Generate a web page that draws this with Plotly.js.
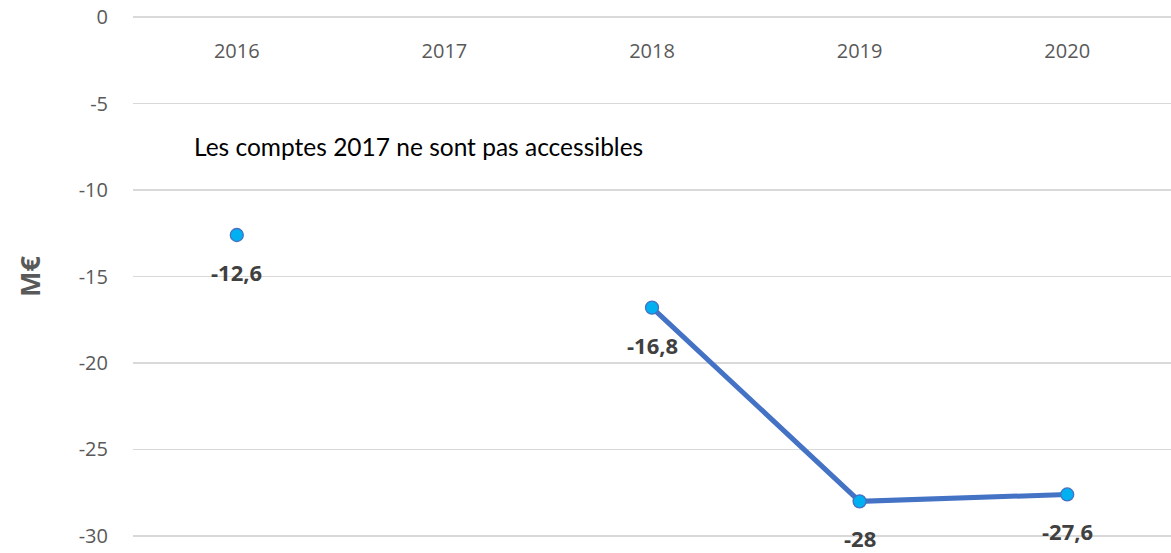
<!DOCTYPE html>
<html>
<head>
<meta charset="utf-8">
<script src="https://cdn.plot.ly/plotly-3.0.1.min.js"></script>
<style>html,body{margin:0;padding:0;background:#fff;}#chart{width:1171px;height:553px;}</style>
</head>
<body>
<div id="chart"></div>
<script>
const years = ['2016', '2017', '2018', '2019', '2020'];
const values = [-12.6, null, -16.8, -28, -27.6];
const yTicks = [0, -5, -10, -15, -20, -25, -30];
const noteText = 'Les comptes 2017 ne sont pas accessibles';
const yTitle = 'M€';

const trace = {
  x: years,
  y: values,
  type: 'scatter',
  mode: 'lines+markers',
  connectgaps: false,
  line: {color: '#4472C4', width: 5},
  marker: {size: 13, color: '#00B0F0', line: {color: '#4472C4', width: 1.3}},
  hoverinfo: 'skip',
  cliponaxis: false
};

const annotations = [];
years.forEach((yr, i) => {
  if (values[i] === null) return;
  annotations.push({
    x: i, y: values[i], xref: 'x', yref: 'y',
    text: '<b>' + String(values[i]).replace('.', ',') + '</b>',
    showarrow: false, yshift: -37, borderpad: 0,
    font: {family: 'Open Sans, sans-serif', size: 22, color: '#404040'}
  });
});
annotations.push({
  x: 0, y: -7.5, xref: 'x', yref: 'y', xanchor: 'left', xshift: -45,
  text: noteText, showarrow: false,
  font: {family: 'Lato, sans-serif', size: 24.5, color: '#000000'}
});

const layout = {
  width: 1171, height: 553,
  margin: {l: 133, r: 0, t: 16, b: 16},
  paper_bgcolor: '#ffffff', plot_bgcolor: '#ffffff',
  showlegend: false,
  xaxis: {
    type: 'category', side: 'top', range: [-0.5, 4.5],
    anchor: 'free', position: 0.912,
    ticks: '', showgrid: false, zeroline: false, showline: false,
    tickfont: {family: 'Open Sans, sans-serif', size: 20, color: '#595959'}
  },
  yaxis: {
    range: [-30.06, 0.06], tickvals: yTicks, ticktext: yTicks.map(String),
    showgrid: true, gridcolor: '#d9d9d9', gridwidth: 1.3,
    zeroline: false, showline: false, ticks: '', ticklabelstandoff: 24,
    tickfont: {family: 'Open Sans, sans-serif', size: 20, color: '#595959'},
    title: {text: yTitle, standoff: 30, font: {family: 'Open Sans, sans-serif', size: 27, color: '#595959', weight: 'bold'}}
  },
  annotations: annotations
};

Plotly.newPlot('chart', [trace], layout, {displayModeBar: false, staticPlot: true});
</script>
</body>
</html>
